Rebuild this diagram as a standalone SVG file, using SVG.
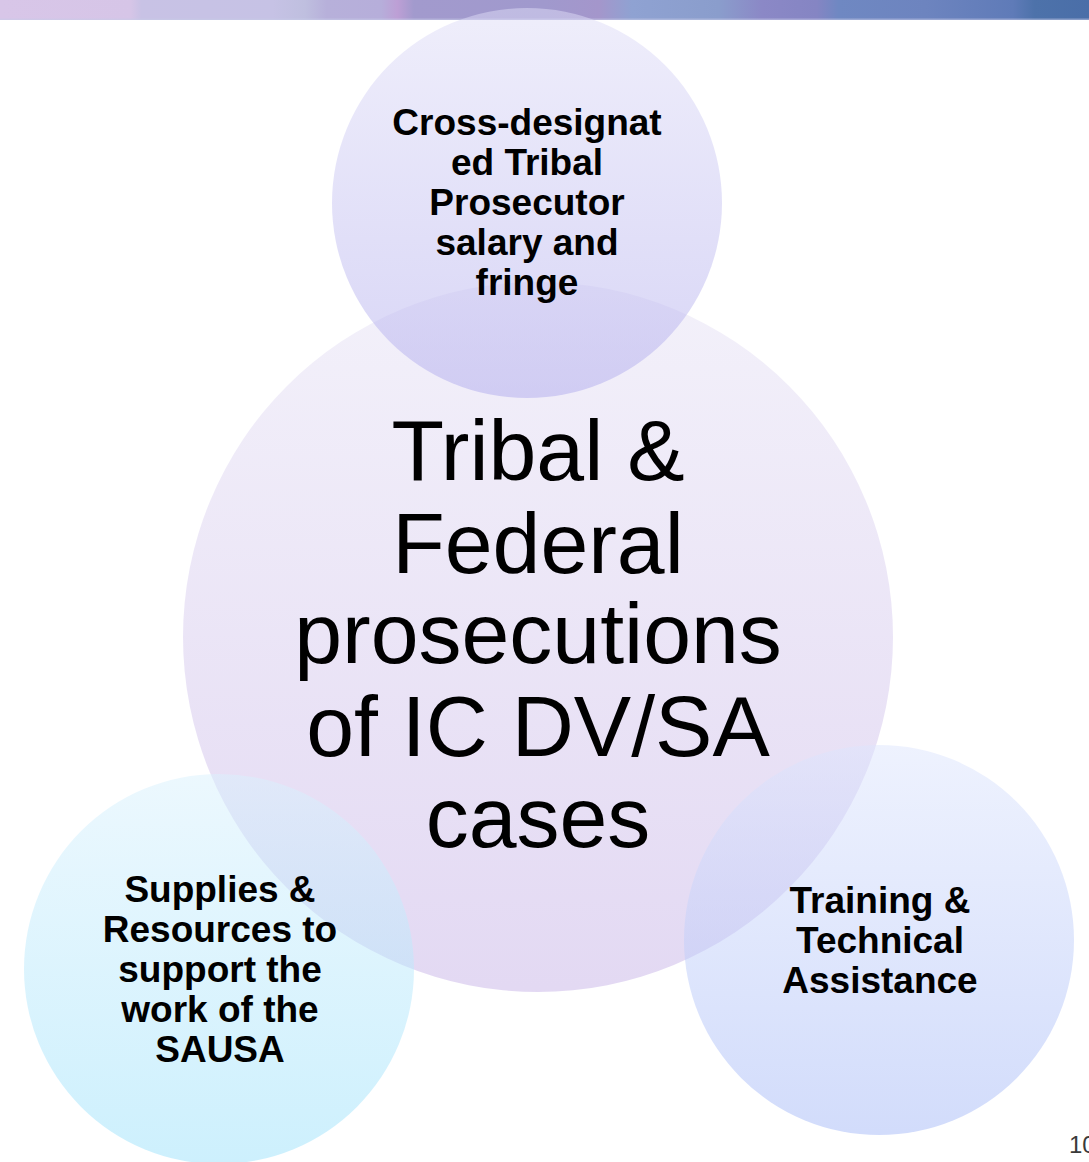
<svg xmlns="http://www.w3.org/2000/svg" width="1089" height="1162" viewBox="0 0 1089 1162">
<defs>
<linearGradient id="banner" x1="0" y1="0" x2="1089" y2="0" gradientUnits="userSpaceOnUse">
<stop offset="0" stop-color="#d8c6e8"/>
<stop offset="0.12" stop-color="#d6c5e7"/>
<stop offset="0.13" stop-color="#c8c2e5"/>
<stop offset="0.25" stop-color="#c6c2e5"/>
<stop offset="0.28" stop-color="#bfbfdf"/>
<stop offset="0.3" stop-color="#b7b0da"/>
<stop offset="0.35" stop-color="#b6aeda"/>
<stop offset="0.365" stop-color="#bd9fd5"/>
<stop offset="0.38" stop-color="#a29acd"/>
<stop offset="0.5" stop-color="#a099cd"/>
<stop offset="0.55" stop-color="#a496cb"/>
<stop offset="0.58" stop-color="#8fa2d2"/>
<stop offset="0.66" stop-color="#8a9dcc"/>
<stop offset="0.7" stop-color="#8b88c6"/>
<stop offset="0.75" stop-color="#8585c3"/>
<stop offset="0.77" stop-color="#6f88c2"/>
<stop offset="0.85" stop-color="#6d84bf"/>
<stop offset="0.93" stop-color="#5f7bb8"/>
<stop offset="0.95" stop-color="#4d72aa"/>
<stop offset="1" stop-color="#4a6ea8"/>
</linearGradient>
<linearGradient id="gTop" x1="0" y1="0" x2="0" y2="1">
<stop offset="0" stop-color="#dfddf7"/>
<stop offset="1" stop-color="#b0abed"/>
</linearGradient>
<linearGradient id="gMain" x1="0" y1="0" x2="0" y2="1">
<stop offset="0" stop-color="#e7e3f5"/>
<stop offset="1" stop-color="#c7b3e7"/>
</linearGradient>
<linearGradient id="gLeft" x1="0" y1="0" x2="0" y2="1">
<stop offset="0" stop-color="#d9f1fd"/>
<stop offset="1" stop-color="#9be1fb"/>
</linearGradient>
<linearGradient id="gRight" x1="0" y1="0" x2="0" y2="1">
<stop offset="0" stop-color="#dde5fd"/>
<stop offset="1" stop-color="#a5b9f7"/>
</linearGradient>
</defs>
<style>
.c{fill-opacity:0.5;stroke:none}
.sm{font-family:"Liberation Sans",Arial,sans-serif;font-weight:bold;font-size:37px;fill:#000;text-anchor:middle}
.big{font-family:"Liberation Sans",Arial,sans-serif;font-size:86px;fill:#000;text-anchor:middle}
.pg{font-family:"Liberation Sans",Arial,sans-serif;font-size:24px;fill:#3a3a3a}
</style>
<rect x="0" y="0" width="1089" height="1162" fill="#ffffff"/>
<rect x="0" y="0" width="1089" height="20" fill="url(#banner)"/>
<rect x="0" y="18.5" width="1089" height="1.5" fill="#c8cbe8" fill-opacity="0.5"/>
<g id="connectors"></g>
<g id="main">
<circle class="c" cx="538" cy="637" r="355" fill="url(#gMain)"/>
</g>
<g id="top">
<circle class="c" cx="527" cy="203" r="195" fill="url(#gTop)"/>
</g>
<g id="left">
<circle class="c" cx="219" cy="969" r="195" fill="url(#gLeft)"/>
</g>
<g id="right">
<circle class="c" cx="879" cy="940" r="195" fill="url(#gRight)"/>
</g>
<g id="main-label">
<text class="big" x="538" y="480">Tribal &amp;</text>
<text class="big" x="538" y="573">Federal</text>
<text class="big" x="538" y="663">prosecutions</text>
<text class="big" x="538" y="756">of IC DV/SA</text>
<text class="big" x="538" y="847">cases</text>
</g>
<g id="top-label">
<text class="sm" x="527" y="135">Cross-designat</text>
<text class="sm" x="527" y="175">ed Tribal</text>
<text class="sm" x="527" y="215">Prosecutor</text>
<text class="sm" x="527" y="255">salary and</text>
<text class="sm" x="527" y="295">fringe</text>
</g>
<g id="left-label">
<text class="sm" x="220" y="902">Supplies &amp;</text>
<text class="sm" x="220" y="942">Resources to</text>
<text class="sm" x="220" y="982">support the</text>
<text class="sm" x="220" y="1022">work of the</text>
<text class="sm" x="220" y="1062">SAUSA</text>
</g>
<g id="right-label">
<text class="sm" x="880" y="913">Training &amp;</text>
<text class="sm" x="880" y="953">Technical</text>
<text class="sm" x="880" y="993">Assistance</text>
</g>
<text class="pg" x="1069" y="1153">10</text>
</svg>
